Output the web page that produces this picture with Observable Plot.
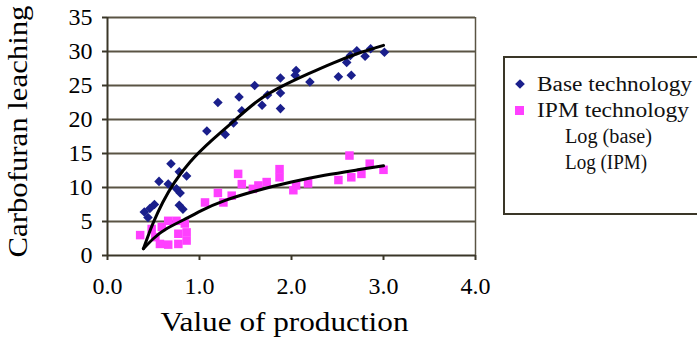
<!DOCTYPE html>
<html><head><meta charset="utf-8">
<script src="https://cdn.jsdelivr.net/npm/d3@7"></script>
<script src="https://cdn.jsdelivr.net/npm/@observablehq/plot@0.6"></script>
<style>
body{margin:0;background:#fff;}
#wrap{position:relative;width:697px;height:342px;overflow:hidden;}
#legend{position:absolute;left:503px;top:56px;}
</style></head><body><div id="wrap"></div>
<script>
// ---- data ----
const baseX = [0.40,0.44,0.46,0.51,0.56,0.66,0.69,0.75,0.78,0.79,0.86,0.78,0.82,
  1.08,1.20,1.28,1.37,1.43,1.46,1.60,1.68,1.74,1.88,1.88,1.88,2.04,2.05,2.20,2.51,2.65,2.60,2.64,2.71,2.80,2.86,3.01];
const baseY = [6.4,5.6,6.9,7.5,10.9,10.5,13.5,9.8,12.3,9.2,11.7,7.4,6.8,
  18.3,22.5,17.8,19.5,23.3,21.3,25.0,22.1,23.6,26.1,23.9,21.6,26.5,27.2,25.5,26.3,26.5,28.4,29.4,30.1,29.3,30.4,29.9];
const ipmX = [0.355,0.66,0.75,0.84,0.86,0.86,0.77,0.66,0.57,0.52,0.48,0.59,0.77,
  1.06,1.20,1.26,1.35,1.42,1.46,1.58,1.64,1.73,1.87,1.87,2.02,2.05,2.18,2.51,2.65,2.63,2.76,2.85,3.00];
const ipmY = [3.0,5.1,5.1,4.7,3.4,2.2,1.7,1.6,1.7,2.7,3.9,4.2,3.2,
  7.8,9.2,7.8,8.8,12.0,10.5,9.8,10.3,10.8,12.7,11.5,9.6,10.3,10.6,11.1,11.5,14.7,12.0,13.5,12.6];
const logBaseX = [0.39,0.45,0.50,0.60,0.73,0.90,1.13,1.40,1.64,1.90,2.18,2.45,2.72,3.00];
const logBaseY = [1.0,3.2,4.9,7.8,10.8,13.8,16.9,20.1,22.8,24.9,26.7,28.3,29.7,30.9];
const logIpmX = [0.39,0.50,0.65,0.88,1.02,1.28,1.64,2.00,2.36,2.72,3.00];
const logIpmY = [1.0,2.5,4.0,5.6,6.6,8.1,9.6,10.8,11.8,12.6,13.2];
const xTicks = [0,1,2,3,4];
const yTicks = [0,5,10,15,20,25,30,35];
const seriesNames = ["Base technology","IPM technology","Log (base)","Log (IPM)"];
const xLabel = "Value of production";
const yLabel = "Carbofuran leaching";

const base = baseX.map((x,i)=>({x, y: baseY[i]}));
const ipm = ipmX.map((x,i)=>({x, y: ipmY[i]}));
const logBase = logBaseX.map((x,i)=>({x, y: logBaseY[i]}));
const logIpm = logIpmX.map((x,i)=>({x, y: logIpmY[i]}));

const gridColor = "#5a5444";
const axisColor = "#3a3628";
const baseColor = "#1a1f8c";
const ipmColor = "#ff40ff";
const serifName = "Liberation Serif";

const plot = Plot.plot({
  width: 697, height: 342,
  marginLeft: 107, marginRight: 222, marginTop: 17, marginBottom: 87,
  style: "font-family: 'Liberation Serif', serif; font-size: 24px; background: #fff; color: #000;",
  x: {domain: [0, 4]},
  y: {domain: [0, 35]},
  marks: [
    Plot.ruleY(yTicks.filter(d => d > 0), {stroke: gridColor, strokeWidth: 2}),
    Plot.ruleX([4], {stroke: gridColor, strokeWidth: 1.5}),
    Plot.ruleX([0], {stroke: axisColor, strokeWidth: 2}),
    Plot.ruleY([0], {stroke: axisColor, strokeWidth: 2}),
    Plot.axisX({ticks: xTicks, tickFormat: d3.format(".1f"), tickSize: 5, tickPadding: 16, label: null, stroke: axisColor, strokeWidth: 2, fontSize: 24}),
    Plot.axisY({ticks: yTicks, tickSize: 5, tickPadding: 10, label: null, stroke: axisColor, strokeWidth: 2, fontSize: 24}),
    Plot.dot(ipm, {x: "x", y: "y", symbol: "square", r: 4.8, fill: ipmColor}),
    Plot.dot(base, {x: "x", y: "y", symbol: "diamond2", r: 4.3, fill: baseColor}),
    Plot.line(logBase, {x: "x", y: "y", stroke: "#000", strokeWidth: 3, curve: "natural"}),
    Plot.line(logIpm, {x: "x", y: "y", stroke: "#000", strokeWidth: 3, curve: "natural"}),
    Plot.text([xLabel], {frameAnchor: "bottom", textAnchor: "middle", lineAnchor: "middle", text: d => d, dx: -7, dy: 67, fontSize: 27}),
    Plot.text([yLabel], {frameAnchor: "left", textAnchor: "middle", lineAnchor: "middle", text: d => d, rotate: -90, dx: -89, dy: -5, fontSize: 27})
  ]
});
document.getElementById("wrap").appendChild(plot);

const svg = d3.select(plot);
svg.selectAll("g").attr("font-family", null);
svg.selectAll("text").style("font-family", serifName).style("font-variant", "normal");
svg.selectAll("text").filter(function(){ return this.textContent === xLabel; })
  .attr("textLength", 248).attr("lengthAdjust", "spacingAndGlyphs");
svg.selectAll("text").filter(function(){ return this.textContent === yLabel; })
  .attr("textLength", 252).attr("lengthAdjust", "spacingAndGlyphs");

// legend (right side, partially cut by the image edge)
const lg = d3.select("#wrap").append("svg").attr("id", "legend")
  .attr("width", 200).attr("height", 160)
  .style("font-size", "20px");
lg.append("rect").attr("x", 1).attr("y", 1).attr("width", 220).attr("height", 157)
  .attr("fill", "#fff").attr("stroke", axisColor).attr("stroke-width", 2);
const rows = [
  {name: seriesNames[0], marker: "diamond", len: 155, y: 35, tx: 34},
  {name: seriesNames[1], marker: "square", len: 152, y: 61, tx: 34},
  {name: seriesNames[2], marker: null, len: 87, y: 87, tx: 62},
  {name: seriesNames[3], marker: null, len: 82, y: 113, tx: 62}
];
rows.forEach(r => {
  if (r.marker === "diamond") {
    lg.append("path").attr("d", d3.symbol(d3.symbolDiamond2, 60)())
      .attr("transform", `translate(17,${r.y - 7})`).attr("fill", baseColor);
  } else if (r.marker === "square") {
    lg.append("rect").attr("x", 12).attr("y", r.y - 11).attr("width", 9).attr("height", 9).attr("fill", ipmColor);
  }
  lg.append("text").attr("x", r.tx).attr("y", r.y).text(r.name)
    .style("font-family", serifName)
    .attr("textLength", r.len).attr("lengthAdjust", "spacingAndGlyphs").attr("fill", "#111");
});
</script></body></html>
